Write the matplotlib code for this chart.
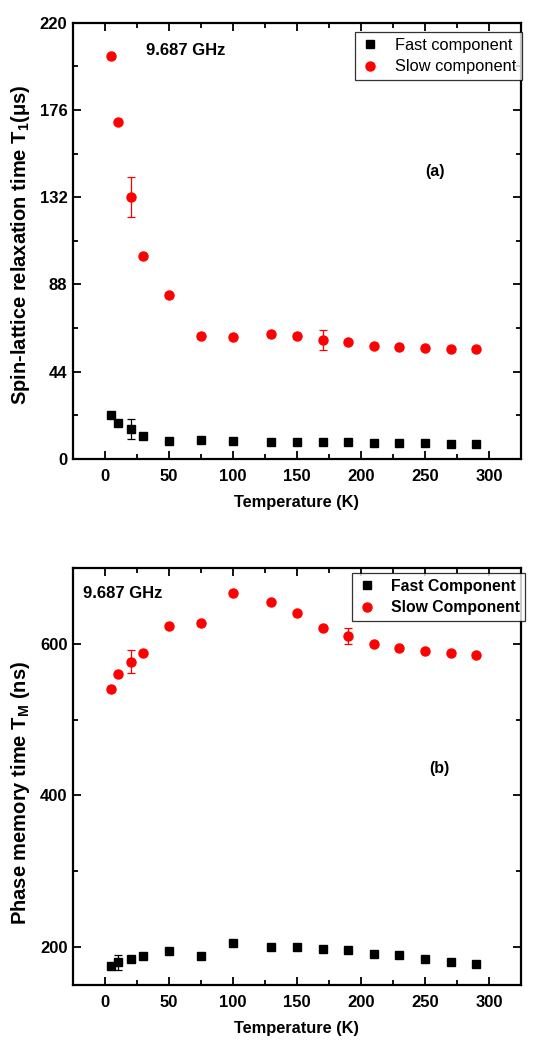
import matplotlib
matplotlib.use('Agg')
import matplotlib.pyplot as plt
from matplotlib.lines import Line2D
from matplotlib.ticker import MultipleLocator

plt.rcParams['font.family'] = ['Liberation Sans', 'DejaVu Sans']
plt.rcParams['mathtext.fontset'] = 'custom'
plt.rcParams['mathtext.rm'] = 'Liberation Sans:bold'
plt.rcParams['mathtext.it'] = 'Liberation Sans:bold'
plt.rcParams['mathtext.bf'] = 'Liberation Sans:bold'

# panel (a): spin-lattice relaxation time T1 (us)
temp = [5, 10, 20, 30, 50, 75, 100, 130, 150, 170, 190, 210, 230, 250, 270, 290]
t1_fast = [22.0, 18.3, 15.0, 11.6, 9.2, 9.4, 9.1, 8.7, 8.7, 8.4, 8.4, 8.1, 8.1, 7.9, 7.7, 7.7]
t1_fast_err = [0, 0, 5, 0, 0, 0, 0, 0, 0, 0, 0, 0, 0, 0, 0, 0]
t1_slow = [203.4, 170.1, 132.0, 102.4, 82.5, 61.9, 61.4, 63.2, 62.2, 60.2, 59.0, 57.1, 56.3, 56.1, 55.3, 55.5]
t1_slow_err = [0, 0, 10, 0, 0, 0, 0, 0, 0, 5, 0, 0, 0, 0, 0, 0]

# panel (b): phase memory time TM (ns)
tm_fast = [175.8, 180.2, 184.6, 189.0, 195.1, 188.1, 205.7, 200.9, 200.0, 197.8, 196.0, 191.6, 190.3, 185.0, 180.2, 178.0]
tm_fast_err = [0, 10, 0, 0, 0, 0, 0, 0, 0, 0, 0, 0, 0, 0, 0, 0]
tm_slow = [539.7, 560.4, 576.2, 587.2, 623.4, 626.8, 666.4, 655.0, 640.0, 620.2, 610.1, 600.0, 594.7, 589.9, 587.2, 585.1]
tm_slow_err = [0, 0, 15, 0, 0, 0, 0, 0, 0, 0, 10, 0, 0, 0, 0, 0]

fig = plt.figure(figsize=(5.43, 10.46), dpi=100)
ax_a = fig.add_axes([0.1344, 0.5612, 0.8251, 0.4171])
ax_b = fig.add_axes([0.1344, 0.0580, 0.8251, 0.3993])


def style_axis(ax):
    for sp in ax.spines.values():
        sp.set_linewidth(1.6)
    ax.xaxis.set_major_locator(MultipleLocator(50))
    ax.xaxis.set_minor_locator(MultipleLocator(25))
    ax.tick_params(which='both', direction='in', top=True, right=True, width=1.3)
    ax.tick_params(which='major', length=6)
    ax.tick_params(which='minor', length=3.5)
    ax.tick_params(axis='x', pad=7)
    ax.tick_params(axis='y', pad=4)
    for lab in ax.get_xticklabels() + ax.get_yticklabels():
        lab.set_fontweight('bold')
        lab.set_fontsize(12)
    ax.set_xlabel('Temperature (K)', fontsize=11.8, fontweight='bold', labelpad=8)


def add_legend(ax, labels, anchor, size, weight):
    handles = [Line2D([], [], ls='none', marker='s', color='black', ms=5.5),
               Line2D([], [], ls='none', marker='o', color='red', ms=6.5)]
    leg = ax.legend(handles, labels, loc='upper right', bbox_to_anchor=anchor,
                    prop={'size': size, 'weight': weight}, frameon=True,
                    fancybox=False, edgecolor='black', handletextpad=0.9,
                    borderpad=0.35, labelspacing=0.42, handlelength=1.2,
                    borderaxespad=0)
    leg.get_frame().set_linewidth(0.9)


# (a)
ax_a.errorbar(temp, t1_fast, yerr=t1_fast_err, fmt='s', color='black', ms=5.5,
              elinewidth=0.9, capsize=3, capthick=0.9)
ax_a.errorbar(temp, t1_slow, yerr=t1_slow_err, fmt='o', color='red', ms=6.5,
              elinewidth=0.9, capsize=3, capthick=0.9)
ax_a.set_xlim(-25, 325)
ax_a.set_ylim(0, 220)
ax_a.yaxis.set_major_locator(MultipleLocator(44))
ax_a.yaxis.set_minor_locator(MultipleLocator(22))
style_axis(ax_a)
ax_a.set_ylabel(r'Spin-lattice relaxation time T$_1$($\mu$s)', fontsize=14.5, fontweight='bold')
ax_a.yaxis.set_label_coords(-0.092, 0.49)
ax_a.text(32, 206, '9.687 GHz', fontsize=12, fontweight='bold', va='center')
ax_a.text(258, 145, '(a)', fontsize=11.5, fontweight='bold', ha='center', va='center')
add_legend(ax_a, ['Fast component', 'Slow component'], (1.002, 0.979), 11.8, 'normal')

# (b)
ax_b.errorbar(temp, tm_fast, yerr=tm_fast_err, fmt='s', color='black', ms=5.5,
              elinewidth=0.9, capsize=3, capthick=0.9)
ax_b.errorbar(temp, tm_slow, yerr=tm_slow_err, fmt='o', color='red', ms=6.5,
              elinewidth=0.9, capsize=3, capthick=0.9)
ax_b.set_xlim(-25, 325)
ax_b.set_ylim(150, 700)
ax_b.yaxis.set_major_locator(MultipleLocator(200))
ax_b.yaxis.set_minor_locator(MultipleLocator(100))
style_axis(ax_b)
ax_b.set_ylabel(r'Phase memory time T$_M$ (ns)', fontsize=14.5, fontweight='bold')
ax_b.yaxis.set_label_coords(-0.092, 0.46)
ax_b.text(-17, 666, '9.687 GHz', fontsize=12, fontweight='bold', va='center')
ax_b.text(261, 436, '(b)', fontsize=11.5, fontweight='bold', ha='center', va='center')
add_legend(ax_b, ['Fast Component', 'Slow Component'], (1.009, 0.987), 11.3, 'bold')

fig.savefig('out.png', dpi=100)
plt.close(fig)
